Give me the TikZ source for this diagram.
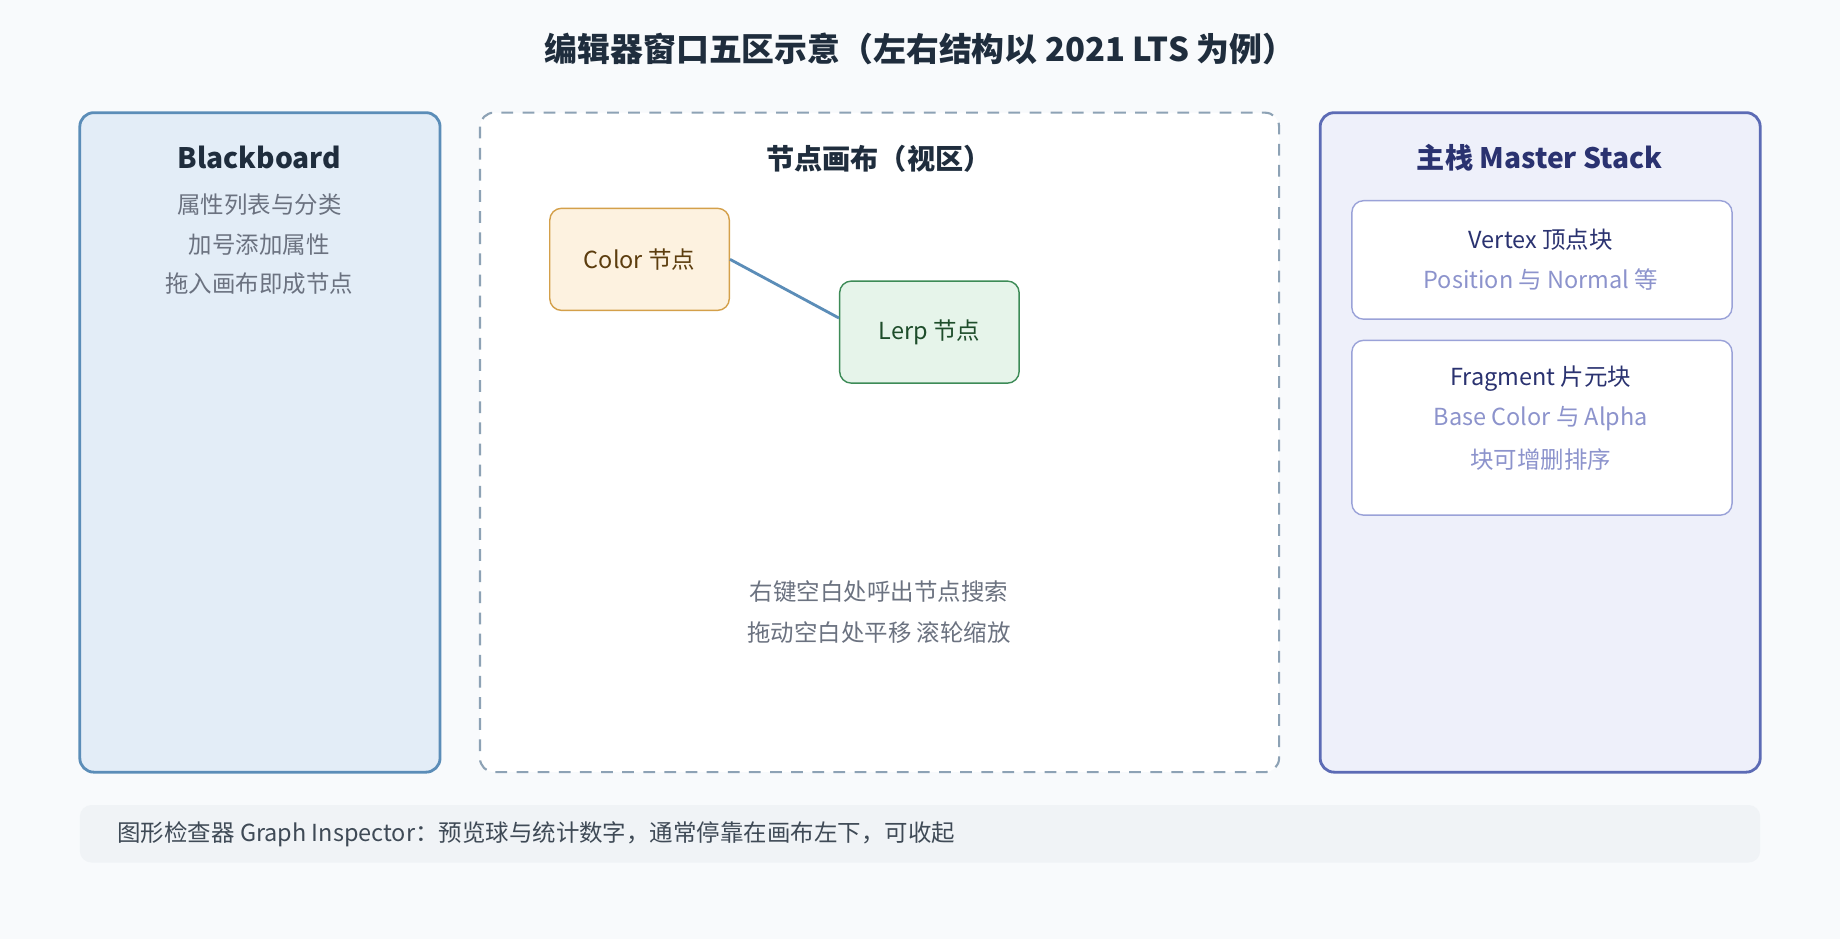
\documentclass[tikz,border=0pt]{standalone}
\usepackage{fontspec}
\setmainfont{Noto Sans CJK SC}
\usetikzlibrary{positioning}
\definecolor{bgpage}{HTML}{F8FAFC}
\definecolor{ink}{HTML}{1F2D3D}
\definecolor{grayt}{HTML}{6B7280}
\definecolor{bbfill}{HTML}{E3EDF7}
\definecolor{bbline}{HTML}{5B8DB8}
\definecolor{cvline}{HTML}{8DA2B5}
\definecolor{clfill}{HTML}{FDF2E0}
\definecolor{clline}{HTML}{D4A04A}
\definecolor{cltext}{HTML}{5C3D0E}
\definecolor{lpfill}{HTML}{E6F4EA}
\definecolor{lpline}{HTML}{3D8B57}
\definecolor{lptext}{HTML}{1E4D2B}
\definecolor{msfill}{HTML}{EEF0FA}
\definecolor{msline}{HTML}{5C6BB5}
\definecolor{mstext}{HTML}{2A3270}
\definecolor{blkline}{HTML}{9AA2D8}
\definecolor{blktext}{HTML}{8C93CC}
\definecolor{barfill}{HTML}{F0F3F6}
\definecolor{bartext}{HTML}{3F4A56}

\begin{document}
\begin{tikzpicture}[x=0.5pt,
            y=-0.5pt,
            panel/.style={draw, line width=1.2pt, rounded corners=6pt},
            card/.style={draw, line width=0.6pt, rounded corners=5pt},
            head/.style={font=\fontsize{12}{14}\selectfont\bfseries},
            body/.style={font=\fontsize{10}{12}\selectfont}]

        \fill[bgpage] (0,0) rectangle (1568,800);
        \node[head, ink, font=\fontsize{14}{16}\selectfont\bfseries] (title) at (784,42) {编辑器窗口五区示意（左右结构以 2021 LTS 为例）};

        % left panel
        \draw[panel, bbline, fill=bbfill] (68,96) rectangle (375,658);
        \node[head, ink]    (bbhead) at (221,134) {Blackboard};
        \node[body, grayt]  (bb1)    at (221,174) {属性列表与分类};
        \node[body, grayt]  (bb2)    at (221,208) {加号添加属性};
        \node[body, grayt]  (bb3)    at (221,242) {拖入画布即成节点};

        % canvas
        \draw[panel, cvline, fill=white, dashed, dash pattern=on 5pt off 4pt, line width=0.9pt] (409,96) rectangle (1090,658);
        \node[head, ink] (cvhead) at (749,135) {节点画布（视区）};
        \node[card, clline, fill=clfill, text=cltext, body, minimum width=76.5pt, minimum height=43.5pt] (color) at (545,221) {Color 节点};
        \node[card, lpline, fill=lpfill, text=lptext, body, minimum width=76.5pt, minimum height=43.5pt] (lerp) at (792,283) {Lerp 节点};
        \draw[bbline, line width=1.2pt] (color.east) -- ([yshift=6pt]lerp.west);
        \node[body, grayt] (cv1) at (749,504) {右键空白处呼出节点搜索};
        \node[body, grayt] (cv2) at (749,539) {拖动空白处平移 滚轮缩放};

        % master stack
        \draw[panel, msline, fill=msfill] (1125,96) rectangle (1500,658);
        \node[head, mstext] (mshead) at (1312,134) {主栈 Master Stack};
        \draw[card, blkline, fill=white] (1152,171) rectangle (1476,272);
        \node[body, mstext]  (vx1) at (1313,204) {Vertex 顶点块};
        \node[body, blktext] (vx2) at (1313,238) {Position 与 Normal 等};
        \draw[card, blkline, fill=white] (1152,290) rectangle (1476,439);
        \node[body, mstext]  (fr1) at (1313,323) {Fragment 片元块};
        \node[body, blktext] (fr2) at (1313,357) {Base Color 与 Alpha};
        \node[body, blktext] (fr3) at (1313,392) {块可增删排序};

        % inspector bar
        \fill[barfill, rounded corners=5pt] (68,686) rectangle (1500,735);
        \node[body, bartext, anchor=west] (insp) at (93,711) {图形检查器 Graph Inspector：预览球与统计数字，通常停靠在画布左下，可收起};

    \end{tikzpicture}
\end{document}
